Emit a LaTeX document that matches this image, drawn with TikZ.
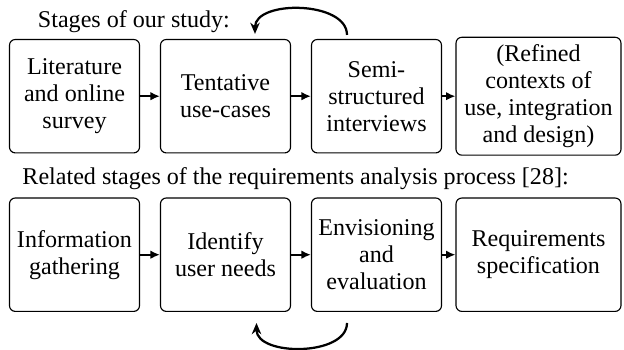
\documentclass[tikz,border=0pt]{standalone}
\usepackage{fontspec}
\setmainfont{Liberation Serif}
\usetikzlibrary{arrows.meta,calc}
\begin{document}
\begin{tikzpicture}[x=0.4444pt,y=0.4444pt,
  every node/.style={font=\rmfamily\fontsize{10.7}{12}\selectfont},
  stagebox/.style={draw, line width=0.5pt, rounded corners=2.6pt, align=center, inner sep=0pt, minimum width=57.8pt, minimum height=50.4pt},
  widebox/.style={stagebox, minimum width=73.3pt, minimum height=52.4pt},
  flow/.style={-{Latex[length=4.2pt,width=3.8pt]}, line width=0.8pt},
  backloop/.style={-{Stealth[length=5pt,width=4.2pt]}, line width=1pt}]
\useasboundingbox (0,0) rectangle (624,349);
\node[anchor=base west] (h1) at (30,322) {Stages of our study:};
\node[anchor=base west] (h2) at (14.5,165) {Related stages of the requirements analysis process [28]:};
% top row
\node[stagebox] (t1) at (74.5,252.8) {Literature\\and online\\survey};
\node[stagebox] (t2) at (225.5,252.8) {Tentative\\use-cases};
\node[stagebox] (t3) at (376.5,252.8) {Semi-\\structured\\interviews};
\node[widebox] (t4) at (538.5,252.8) {(Refined\\contexts of\\use, integration\\and design)};
\draw[flow] (t1) -- (t2);
\draw[flow] (t2) -- (t3);
\draw[flow] (t3) -- (t4);
\coordinate (ta) at ($(t3.north)+(-29.5,4)$);
\coordinate (tb) at ($(t2.north)+(29.5,5)$);
\draw[backloop] (ta) to[out=90,in=90,looseness=0.95] (tb);
% bottom row
\node[stagebox] (b1) at (74.5,94.3) {Information\\gathering};
\node[stagebox] (b2) at (225.5,94.3) {Identify\\user needs};
\node[stagebox] (b3) at (376.5,94.3) {Envisioning\\and\\evaluation};
\node[widebox, minimum height=50.4pt] (b4) at (538.5,94.3) {Requirements\\specification};
\draw[flow] (b1) -- (b2);
\draw[flow] (b2) -- (b3);
\draw[flow] (b3) -- (b4);
\coordinate (ba) at ($(b3.south)+(-29.5,-11)$);
\coordinate (bb) at ($(b2.south)+(31,-11)$);
\draw[backloop] (ba) to[out=-90,in=-90,looseness=0.95] (bb);
\end{tikzpicture}
\end{document}
